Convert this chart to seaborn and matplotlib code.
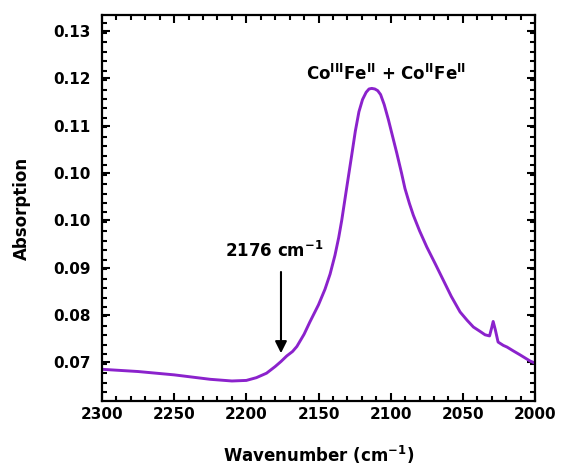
import numpy as np
import pandas as pd
import matplotlib
matplotlib.use("Agg")
import matplotlib.pyplot as plt
from matplotlib.ticker import MultipleLocator
import seaborn as sns

# IR spectrum in the cyanide stretching region
wavenumber = [2300, 2275, 2250, 2225, 2210, 2200, 2193, 2186, 2180, 2176,
              2172, 2168, 2165, 2160, 2156, 2150, 2145.5, 2142, 2138.6, 2136,
              2133.9, 2130.5, 2127.0, 2124.5, 2122, 2119.5, 2117, 2115, 2113.1, 2111,
              2109, 2107, 2104.5, 2101.6, 2098.7, 2095.8, 2092.5, 2090.1, 2087, 2084.3,
              2080, 2075, 2069, 2063.5, 2058, 2051.9, 2047, 2042.7, 2038, 2034.6,
              2031.5, 2030, 2029, 2027.5, 2025.6, 2022, 2019.4, 2015, 2010.4, 2003.5,
              2000]
absorption = [0.0687, 0.0683, 0.0677, 0.0669, 0.0666, 0.0667, 0.0672, 0.0680, 0.0692, 0.0701,
              0.0711, 0.0719, 0.0728, 0.0750, 0.0772, 0.0803, 0.0831, 0.0858, 0.0892, 0.0924,
              0.0955, 0.1013, 0.1072, 0.1115, 0.1150, 0.1172, 0.1185, 0.1191, 0.1192, 0.1191,
              0.1188, 0.1181, 0.1163, 0.1136, 0.1106, 0.1076, 0.1040, 0.1012, 0.0985, 0.0964,
              0.0936, 0.0907, 0.0876, 0.0847, 0.0818, 0.0790, 0.0775, 0.0763, 0.0755, 0.0749,
              0.0747, 0.0762, 0.0773, 0.0758, 0.0736, 0.0730, 0.0727, 0.0720, 0.0713, 0.0702,
              0.0698]

# y tick positions and their printed labels
ytick_values = [0.0700, 0.0785, 0.0870, 0.0955, 0.1040, 0.1125, 0.1210, 0.1295]
ytick_labels = ["0.07", "0.08", "0.09", "0.10", "0.10", "0.11", "0.12", "0.13"]
xtick_values = [2300, 2250, 2200, 2150, 2100, 2050, 2000]

df = pd.DataFrame({"wavenumber": wavenumber, "absorption": absorption})

sns.set_style("ticks")
plt.rcParams["font.family"] = ["DejaVu Sans"]
plt.rcParams["font.weight"] = "bold"
plt.rcParams["text.color"] = "black"
plt.rcParams["axes.labelcolor"] = "black"
plt.rcParams["xtick.color"] = "black"
plt.rcParams["ytick.color"] = "black"
plt.rcParams["mathtext.fontset"] = "custom"
plt.rcParams["mathtext.rm"] = "DejaVu Sans:bold"
plt.rcParams["mathtext.it"] = "DejaVu Sans:bold"
plt.rcParams["mathtext.bf"] = "DejaVu Sans:bold"

fig = plt.figure(figsize=(5.61, 4.70), dpi=100)
ax = fig.add_axes([0.1818, 0.1468, 0.9537 - 0.1818, 0.9681 - 0.1468])

sns.lineplot(data=df, x="wavenumber", y="absorption", ax=ax, color="#8B22CC",
             linewidth=2.1, sort=False, estimator=None)

ax.set_xlim(2300, 2000)
ax.set_ylim(0.0630, 0.1324)
ax.set_xticks(xtick_values)
ax.set_xticklabels([str(v) for v in xtick_values])
ax.set_yticks(ytick_values)
ax.set_yticklabels(ytick_labels)
ax.xaxis.set_minor_locator(MultipleLocator(10))
ax.yaxis.set_minor_locator(MultipleLocator(0.0017))

ax.tick_params(which="both", direction="in", top=True, right=True, width=1.5,
               labelsize=11, colors="black")
ax.tick_params(axis="x", pad=4)
ax.tick_params(axis="y", pad=8)
ax.tick_params(which="major", length=6)
ax.tick_params(which="minor", length=3.5)
for s in ax.spines.values():
    s.set_linewidth(1.6)
    s.set_color("black")

ax.set_xlabel("Wavenumber (cm$^{-1}$)", fontsize=12, fontweight="bold", labelpad=16)
ax.set_ylabel("Absorption", fontsize=12, fontweight="bold", labelpad=16)

ax.text(2102.9, 0.1207, r"Co$^{\mathrm{III}}$Fe$^{\mathrm{II}}$ + Co$^{\mathrm{II}}$Fe$^{\mathrm{II}}$",
        ha="center", va="baseline", fontsize=12, fontweight="bold")
ax.text(2180.5, 0.0889, "2176 cm$^{-1}$", ha="center", va="baseline",
        fontsize=12, fontweight="bold")
ax.annotate("", xy=(2176, 0.0711), xytext=(2176, 0.0867),
            arrowprops=dict(arrowstyle="-|>,head_length=0.7,head_width=0.35",
                            color="black", lw=1.5))

fig.savefig("out.png", dpi=100)
